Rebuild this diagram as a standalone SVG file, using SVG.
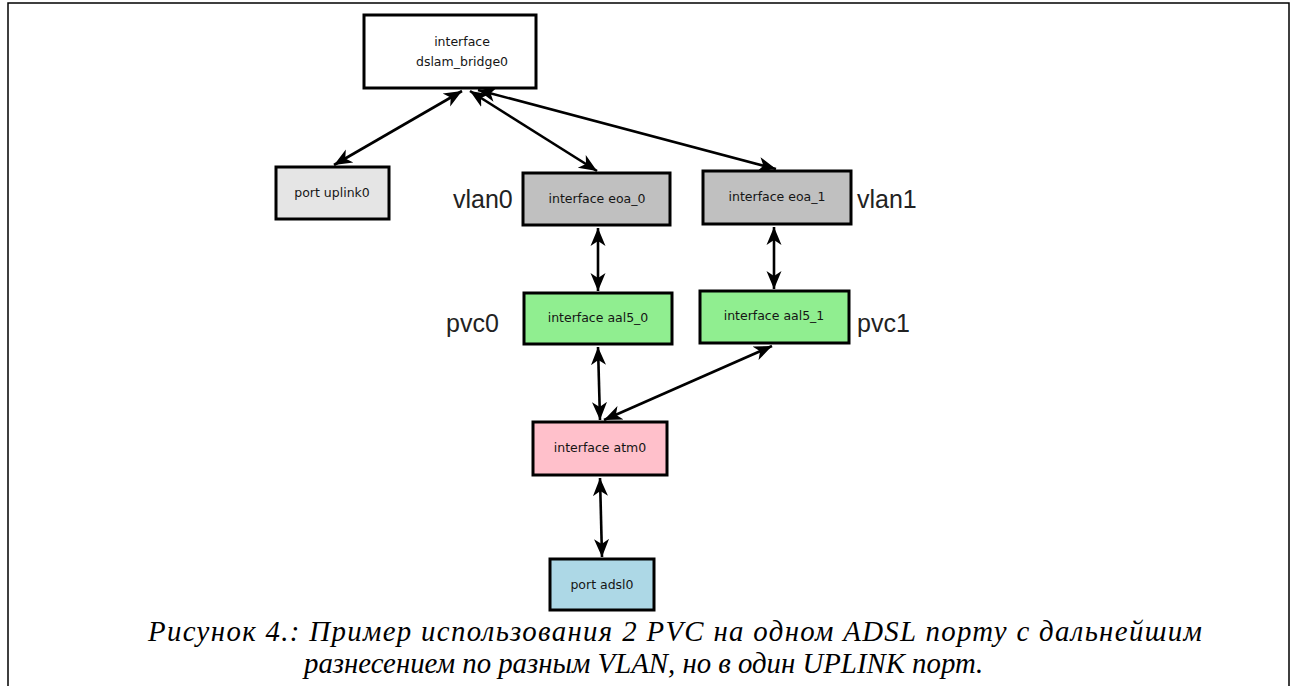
<svg xmlns="http://www.w3.org/2000/svg" width="1297" height="686" viewBox="0 0 1297 686">
<defs>
<marker id="ah" markerUnits="userSpaceOnUse" markerWidth="20" markerHeight="18" refX="18" refY="9" orient="auto-start-reverse" viewBox="0 0 20 18">
<path d="M0,1.5 L18,9 L0,16.5 L5,9 z" fill="#000"/>
</marker>
<style>
.nd{stroke:#000;stroke-width:3}
.nt{font-family:"DejaVu Sans",sans-serif;font-size:12.5px;fill:#151515;text-anchor:middle}
.lb{font-family:"Liberation Sans",Arial,sans-serif;font-size:25px;fill:#222}
.ed{stroke:#000;stroke-width:2.6;fill:none;marker-start:url(#ah);marker-end:url(#ah)}
.cap{font-family:"Liberation Serif","Times New Roman",serif;font-style:italic;font-size:28.8px;fill:#000}
</style>
</defs>
<rect width="1297" height="686" fill="#fff"/>
<path d="M8,686 V3 H1289 V686" fill="none" stroke="#000" stroke-width="1.5"/>
<g id="connectors">
<line class="ed" x1="462" y1="91" x2="334" y2="165"/>
<line class="ed" x1="470" y1="91" x2="597" y2="171"/>
<line class="ed" x1="478" y1="90" x2="776" y2="169"/>
<line class="ed" x1="598" y1="228" x2="598" y2="291"/>
<line class="ed" x1="774" y1="227" x2="774" y2="289"/>
<line class="ed" x1="598" y1="347" x2="600" y2="420"/>
<line class="ed" x1="772" y1="346" x2="604" y2="420"/>
<line class="ed" x1="600" y1="478" x2="602" y2="557"/>
</g>
<g id="n_dslam">
<rect class="nd" x="364" y="15" width="172" height="73" fill="#fff"/>
<text class="nt" x="462" y="46">interface</text>
<text class="nt" x="462" y="66">dslam_bridge0</text>
</g>
<g id="n_uplink">
<rect class="nd" x="276" y="167" width="113" height="52" fill="#e5e5e5"/>
<text class="nt" x="332" y="197">port uplink0</text>
</g>
<g id="n_eoa0">
<rect class="nd" x="523" y="173" width="147" height="52" fill="#c0c0c0"/>
<text class="nt" x="597" y="203">interface eoa_0</text>
</g>
<g id="n_eoa1">
<rect class="nd" x="703" y="171" width="148" height="53" fill="#c0c0c0"/>
<text class="nt" x="777" y="201">interface eoa_1</text>
</g>
<g id="n_aal50">
<rect class="nd" x="524" y="293" width="148" height="51" fill="#90ee90"/>
<text class="nt" x="598" y="322">interface aal5_0</text>
</g>
<g id="n_aal51">
<rect class="nd" x="700" y="291" width="149" height="52" fill="#90ee90"/>
<text class="nt" x="774" y="320">interface aal5_1</text>
</g>
<g id="n_atm0">
<rect class="nd" x="533" y="422" width="134" height="53" fill="#ffc0cb"/>
<text class="nt" x="600" y="452">interface atm0</text>
</g>
<g id="n_adsl0">
<rect class="nd" x="550" y="559" width="104" height="51" fill="#add8e6"/>
<text class="nt" x="602" y="589">port adsl0</text>
</g>
<g id="labels">
<text class="lb" x="453" y="208">vlan0</text>
<text class="lb" x="857" y="208">vlan1</text>
<text class="lb" x="446" y="332">pvc0</text>
<text class="lb" x="857" y="332">pvc1</text>
</g>
<g id="caption">
<text class="cap" x="148" y="641" letter-spacing="1.35">Рисунок 4.: Пример использования 2 PVC на одном ADSL порту с дальнейшим</text>
<text class="cap" x="304" y="673">разнесением по разным VLAN, но в один UPLINK порт.</text>
</g>
</svg>
